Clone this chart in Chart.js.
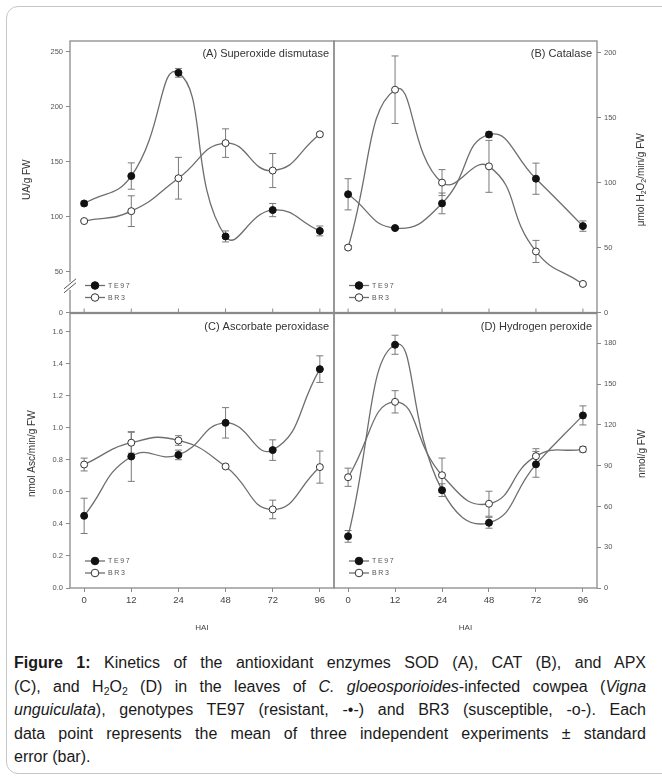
<!DOCTYPE html>
<html>
<head>
<meta charset="utf-8">
<script src="https://cdn.jsdelivr.net/npm/chart.js@4.4.1/dist/chart.umd.min.js"></script>
<style>
  html, body { margin: 0; padding: 0; background: #fff; }
  body { width: 662px; height: 776px; position: relative; overflow: hidden; font-family: "Liberation Sans", Arial, sans-serif; }
  .card { position: absolute; left: 6px; top: 6px; width: 720px; height: 766px; border: 1px solid #c6c6c6; border-radius: 12px; }
  .panel { position: absolute; }
  .cap { position: absolute; left: 14px; top: 651px; width: 632px; font-size: 16px; color: #1a1a1a; }
  .ln { height: 23.5px; line-height: 23.5px; text-align: justify; text-align-last: justify; white-space: nowrap; }
  .ln.last { text-align-last: left; }
  .ln sub { font-size: 10.5px; vertical-align: -3px; line-height: 0; }
</style>
</head>
<body>
<div class="card"></div>
<div class="panel" style="left:0;top:0;width:340px;height:320px"><canvas id="chartA"></canvas></div>
<div class="panel" style="left:330px;top:0;width:332px;height:320px"><canvas id="chartB"></canvas></div>
<div class="panel" style="left:0;top:306px;width:340px;height:330px"><canvas id="chartC"></canvas></div>
<div class="panel" style="left:330px;top:306px;width:332px;height:330px"><canvas id="chartD"></canvas></div>
<div class="cap">
  <div class="ln"><b>Figure 1:</b> Kinetics of the antioxidant enzymes SOD (A), CAT (B), and APX</div>
  <div class="ln">(C), and H<sub>2</sub>O<sub>2</sub> (D) in the leaves of <i>C. gloeosporioides</i>-infected cowpea (<i>Vigna</i></div>
  <div class="ln"><i>unguiculata</i>), genotypes TE97 (resistant, -•-) and BR3 (susceptible, -o-). Each</div>
  <div class="ln">data point represents the mean of three independent experiments ± standard</div>
  <div class="ln last">error (bar).</div>
</div>
<script>
// Hours after inoculation
const hours = ['0', '12', '24', '48', '72', '96'];

// (A) Superoxide dismutase, UA/g FW
const sodTE97 = [112, 137, 231, 82, 106, 87];
const sodTE97Err = [2, 12, 4, 5, 6, 4.5];
const sodBR3 = [96, 105, 135, 167, 142, 175];
const sodBR3Err = [1, 14, 19, 13, 15.5, 1.5];
const sodTicks = [50, 100, 150, 200, 250];

// (B) Catalase, umol H2O2/min/g FW
const catTE97 = [91, 65, 84, 137, 103, 66.5];
const catTE97Err = [12, 1, 8, 2, 12, 4];
const catBR3 = [50, 171.5, 100, 112.5, 47, 22];
const catBR3Err = [1.5, 26, 10, 20, 8.5, 1];
const catTicks = [0, 50, 100, 150, 200];

// (C) Ascorbate peroxidase, nmol Asc/min/g FW
const apxTE97 = [0.45, 0.82, 0.83, 1.03, 0.86, 1.365];
const apxTE97Err = [0.11, 0.155, 0.03, 0.095, 0.064, 0.083];
const apxBR3 = [0.77, 0.906, 0.92, 0.758, 0.49, 0.754];
const apxBR3Err = [0.04, 0.065, 0.03, 0.005, 0.058, 0.1];
const apxTicks = [0, 0.2, 0.4, 0.6, 0.8, 1.0, 1.2, 1.4, 1.6];

// (D) Hydrogen peroxide, nmol/g FW
const h2o2TE97 = [38, 179, 72, 48, 91, 127];
const h2o2TE97Err = [4.3, 7, 4.7, 4, 9.5, 7];
const h2o2BR3 = [81.5, 137, 83, 62, 97, 102];
const h2o2BR3Err = [6.7, 8.2, 12.6, 9.2, 5.5, 2];
const h2o2Ticks = [0, 30, 60, 90, 120, 150, 180];

const FONT = '"Liberation Sans", Arial, sans-serif';
const AXIS = '#8a8a8a';
Chart.defaults.font.family = FONT;
Chart.defaults.color = '#555';

function toPoints(values) {
    return values.map((v, i) => ({ x: i, y: v }));
}

function makeDatasets(te, teErr, br, brErr) {
    const common = { borderColor: '#6e6e6e', borderWidth: 1.3, tension: 0.5, pointRadius: 3.5, pointHoverRadius: 3.5, pointBorderWidth: 1 };
    return [
        Object.assign({ label: 'TE97', data: toPoints(te), errors: teErr, pointBackgroundColor: '#111', pointBorderColor: '#111' }, common),
        Object.assign({ label: 'BR3', data: toPoints(br), errors: brErr, pointBackgroundColor: '#fff', pointBorderColor: '#333' }, common)
    ];
}

function drawRotated(ctx, parts, cx, cy, size) {
    ctx.save();
    ctx.translate(cx, cy);
    ctx.rotate(-Math.PI / 2);
    ctx.fillStyle = '#333';
    ctx.textBaseline = 'middle';
    ctx.textAlign = 'left';
    const sub = size * 0.7;
    let total = 0;
    parts.forEach(p => {
        ctx.font = (p.sub ? sub : size) + 'px ' + FONT;
        total += ctx.measureText(p.text).width;
    });
    let x = -total / 2;
    parts.forEach(p => {
        ctx.font = (p.sub ? sub : size) + 'px ' + FONT;
        ctx.fillText(p.text, x, p.sub ? size * 0.35 : 0);
        x += ctx.measureText(p.text).width;
    });
    ctx.restore();
}

// Error bars, frame, titles and the small legend of each panel
const panelPlugin = {
    id: 'panel',
    beforeDatasetsDraw(chart) {
        const ctx = chart.ctx, ys = chart.scales.y;
        ctx.save();
        ctx.strokeStyle = '#7a7a7a';
        ctx.lineWidth = 1;
        chart.data.datasets.forEach((ds, di) => {
            const meta = chart.getDatasetMeta(di);
            ds.errors.forEach((e, i) => {
                const px = meta.data[i].x;
                const top = ys.getPixelForValue(ds.data[i].y + e);
                const bot = ys.getPixelForValue(ds.data[i].y - e);
                ctx.beginPath();
                ctx.moveTo(px, top); ctx.lineTo(px, bot);
                ctx.moveTo(px - 3.5, top); ctx.lineTo(px + 3.5, top);
                ctx.moveTo(px - 3.5, bot); ctx.lineTo(px + 3.5, bot);
                ctx.stroke();
            });
        });
        ctx.restore();
    },
    afterDraw(chart, args, opts) {
        const ctx = chart.ctx, a = chart.chartArea, xs = chart.scales.x, ys = chart.scales.y;
        ctx.save();
        // frame
        ctx.strokeStyle = AXIS;
        ctx.lineWidth = 1.3;
        ctx.strokeRect(a.left, a.top, a.right - a.left, a.bottom - a.top);
        // inward x ticks (upper panels)
        if (opts.innerTicks) {
            ctx.lineWidth = 1;
            ctx.beginPath();
            hours.forEach((h, i) => {
                const px = xs.getPixelForValue(i);
                ctx.moveTo(px, a.bottom);
                ctx.lineTo(px, a.bottom - 4);
            });
            ctx.stroke();
        }
        // axis break
        if (opts.breakAt !== undefined) {
            const by = ys.getPixelForValue(opts.breakAt);
            ctx.fillStyle = '#fff';
            ctx.fillRect(a.left - 2, by - 4, 4, 8);
            ctx.strokeStyle = '#555';
            ctx.lineWidth = 1;
            ctx.beginPath();
            ctx.moveTo(a.left - 6, by + 3); ctx.lineTo(a.left + 6, by - 7);
            ctx.moveTo(a.left - 6, by + 7); ctx.lineTo(a.left + 6, by - 3);
            ctx.stroke();
        }
        // panel title
        ctx.fillStyle = '#333';
        ctx.font = '11px ' + FONT;
        ctx.textAlign = 'right';
        ctx.textBaseline = 'middle';
        ctx.fillText(opts.title, a.right - 5, a.top + 13);
        // y axis title
        drawRotated(ctx, opts.yTitle, opts.yTitleX, (a.top + a.bottom) / 2 + 3, 10);
        // legend
        chart.data.datasets.forEach((ds, di) => {
            const ly = a.bottom - 27 + di * 12;
            ctx.strokeStyle = ds.borderColor;
            ctx.lineWidth = 1.3;
            ctx.beginPath();
            ctx.moveTo(a.left + 15, ly); ctx.lineTo(a.left + 35, ly);
            ctx.stroke();
            ctx.beginPath();
            ctx.arc(a.left + 25, ly, 3.8, 0, Math.PI * 2);
            ctx.fillStyle = ds.pointBackgroundColor;
            ctx.fill();
            ctx.strokeStyle = ds.pointBorderColor;
            ctx.lineWidth = 1;
            ctx.stroke();
            ctx.fillStyle = '#555';
            ctx.font = '7px ' + FONT;
            ctx.textAlign = 'left';
            ctx.letterSpacing = '1.6px';
            ctx.fillText(ds.label, a.left + 38, ly + 0.5);
            ctx.letterSpacing = '0px';
        });
        ctx.restore();
    }
};

function buildChart(id, cfg) {
    const xAxis = {
        type: 'linear', min: -0.3, max: 5.3,
        afterBuildTicks: s => { s.ticks = hours.map((h, i) => ({ value: i })); },
        afterFit: s => { s.height = cfg.xHeight; },
        border: { display: false },
        grid: { drawOnChartArea: false, drawTicks: cfg.showX, tickLength: 4, color: AXIS },
        ticks: { display: cfg.showX, padding: 3, color: '#444', font: { size: 9.5 }, callback: v => hours[v] },
        title: { display: cfg.showX, text: 'HAI', color: '#444', font: { size: 8 }, padding: { top: 0, bottom: 3 } }
    };
    const yAxis = {
        type: 'linear', position: cfg.yPos, min: cfg.yMin, max: cfg.yMax,
        afterBuildTicks: s => {
            const t = cfg.yTicks.map(v => ({ value: v }));
            if (cfg.breakAt !== undefined) t.unshift({ value: cfg.yMin });
            s.ticks = t;
        },
        afterFit: s => { s.width = cfg.yWidth; },
        border: { display: false },
        grid: { drawOnChartArea: false, tickLength: 4, color: AXIS },
        ticks: {
            padding: 3, color: '#555', font: { size: 7.5 },
            callback: v => (cfg.breakAt !== undefined && v === cfg.yMin) ? '0' : (cfg.decimals ? v.toFixed(cfg.decimals) : v)
        }
    };
    return new Chart(document.getElementById(id), {
        type: 'line',
        data: { datasets: cfg.datasets },
        options: {
            responsive: true,
            maintainAspectRatio: false,
            animation: false,
            layout: { autoPadding: false, padding: cfg.padding },
            plugins: {
                legend: { display: false },
                tooltip: { enabled: false },
                panel: { title: cfg.title, yTitle: cfg.yTitle, yTitleX: cfg.yTitleX, innerTicks: !cfg.showX, breakAt: cfg.breakAt }
            },
            scales: { x: xAxis, y: yAxis }
        },
        plugins: [panelPlugin]
    });
}

buildChart('chartA', {
    datasets: makeDatasets(sodTE97, sodTE97Err, sodBR3, sodBR3Err),
    title: '(A) Superoxide dismutase',
    yTitle: [{ text: 'UA/g FW' }], yTitleX: 27,
    yPos: 'left', yWidth: 70, yMin: 12.7, yMax: 260, yTicks: sodTicks, breakAt: 37,
    padding: { top: 41, right: 6, left: 0, bottom: 0 }, xHeight: 7, showX: false
});

buildChart('chartB', {
    datasets: makeDatasets(catTE97, catTE97Err, catBR3, catBR3Err),
    title: '(B) Catalase',
    yTitle: [{ text: 'μmol H' }, { text: '2', sub: true }, { text: 'O' }, { text: '2', sub: true }, { text: '/min/g FW' }], yTitleX: 311,
    yPos: 'right', yWidth: 65, yMin: 0, yMax: 209, yTicks: catTicks,
    padding: { top: 41, right: 0, left: 4, bottom: 0 }, xHeight: 7, showX: false
});

buildChart('chartC', {
    datasets: makeDatasets(apxTE97, apxTE97Err, apxBR3, apxBR3Err),
    title: '(C) Ascorbate peroxidase',
    yTitle: [{ text: 'nmol Asc/min/g FW' }], yTitleX: 32,
    yPos: 'left', yWidth: 70, yMin: 0, yMax: 1.712, yTicks: apxTicks, decimals: 1,
    padding: { top: 7, right: 6, left: 0, bottom: 0 }, xHeight: 48, showX: true
});

buildChart('chartD', {
    datasets: makeDatasets(h2o2TE97, h2o2TE97Err, h2o2BR3, h2o2BR3Err),
    title: '(D) Hydrogen peroxide',
    yTitle: [{ text: 'nmol/g FW' }], yTitleX: 312,
    yPos: 'right', yWidth: 65, yMin: 0, yMax: 202, yTicks: h2o2Ticks,
    padding: { top: 7, right: 0, left: 4, bottom: 0 }, xHeight: 48, showX: true
});
</script>
</body>
</html>
